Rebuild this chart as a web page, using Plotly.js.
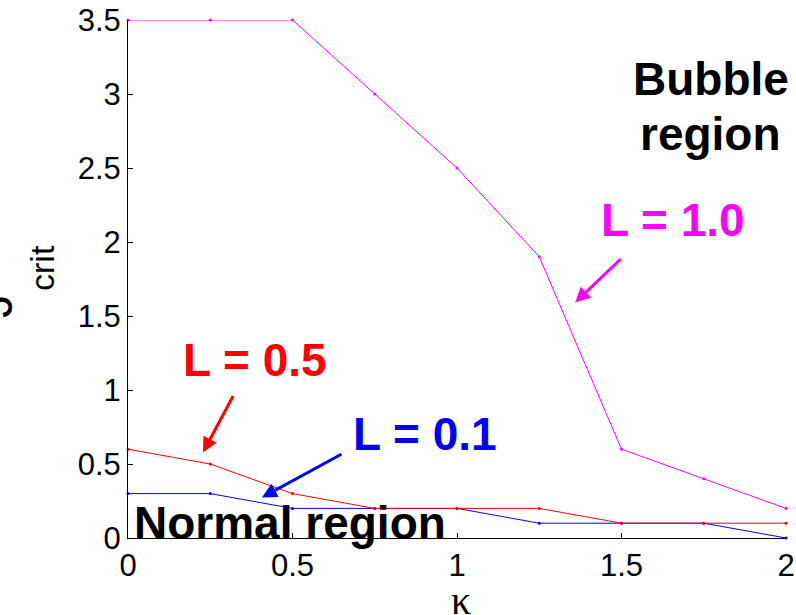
<!DOCTYPE html>
<html>
<head>
<meta charset="utf-8">
<script src="https://cdn.plot.ly/plotly-3.0.1.min.js"></script>
<style>html,body{margin:0;padding:0;background:#fff;}#chart{width:796px;height:615px;}</style>
</head>
<body>
<div id="chart"></div>
<script>
// Data
const kappa = [0, 0.25, 0.5, 0.75, 1, 1.25, 1.5, 1.75, 2];
const J_L10 = [3.5, 3.5, 3.5, 3.0, 2.5, 1.9, 0.6, 0.4, 0.2];
const J_L05 = [0.6, 0.5, 0.3, 0.2, 0.2, 0.2, 0.1, 0.1, 0.1];
const J_L01 = [0.3, 0.3, 0.2, 0.2, 0.2, 0.1, 0.1, 0.1, 0.0];
const xTicks = [0, 0.5, 1, 1.5, 2];
const yTicks = [0, 0.5, 1, 1.5, 2, 2.5, 3, 3.5];

const SANS = 'Liberation Sans, Arial, sans-serif';

function trace(y, color, name) {
  return {
    x: kappa, y: y, name: name, type: 'scatter', mode: 'lines+markers',
    line: {color: color, width: 1},
    marker: {color: color, size: 3},
    cliponaxis: false
  };
}

const data = [
  trace(J_L10, '#ff00ff', 'L = 1.0'),
  trace(J_L01, '#0000ff', 'L = 0.1'),
  trace(J_L05, '#ff0000', 'L = 0.5')
];

function label(text, color, x, y, size) {
  return {
    text: text, x: x, y: y, xref: 'x', yref: 'y', showarrow: false,
    xanchor: 'center', yanchor: 'middle',
    font: {family: SANS, size: size || 46, color: color, weight: 'bold'}
  };
}
function arrow(color, hx, hy, tx, ty) {
  return {
    text: '', x: hx, y: hy, ax: tx, ay: ty, xref: 'x', yref: 'y', axref: 'x', ayref: 'y',
    showarrow: true, arrowhead: 2, arrowsize: 1, arrowwidth: 3, arrowcolor: color, standoff: 0
  };
}

const annotations = [
  label('Bubble', '#000', 1.772, 3.10),
  label('region', '#000', 1.772, 2.73),
  label('L = 1.0', '#ff00ff', 1.655, 2.15),
  label('L = 0.5', '#ff0000', 0.386, 1.20),
  label('L = 0.1', '#0000ff', 0.903, 0.70),
  label('Normal region', '#000', 0.493, 0.10),
  arrow('#ff00ff', 1.359, 1.591, 1.502, 1.895),
  arrow('#ff0000', 0.228, 0.578, 0.322, 0.970),
  arrow('#0000ff', 0.407, 0.274, 0.653, 0.571),
  // y-axis title (J with subscript crit), rotated
  {text: 'J', xref: 'paper', yref: 'paper', x: 0, y: 0, xanchor: 'center', yanchor: 'middle',
   xshift: -133, yshift: 232, textangle: -90, showarrow: false,
   font: {family: SANS, size: 48, color: '#000'}},
  {text: 'crit', xref: 'paper', yref: 'paper', x: 0, y: 0, xanchor: 'center', yanchor: 'middle',
   xshift: -86, yshift: 270, textangle: -90, showarrow: false,
   font: {family: SANS, size: 34, color: '#000'}},
  // x-axis title
  {text: 'κ', xref: 'paper', yref: 'paper', x: 0, y: 0, xanchor: 'center', yanchor: 'top',
   xshift: 333, yshift: -38, showarrow: false,
   font: {family: 'Liberation Serif, Times New Roman, serif', size: 40, color: '#000'}}
];

const axisCommon = {
  showline: true, linecolor: '#000', linewidth: 1, mirror: false,
  ticks: 'inside', ticklen: 5, tickwidth: 1, tickcolor: '#000',
  showgrid: false, zeroline: false,
  tickfont: {family: SANS, size: 31, color: '#000'}
};

const layout = {
  width: 796, height: 615,
  margin: {l: 128, r: 10, t: 20, b: 77},
  paper_bgcolor: '#fff', plot_bgcolor: '#fff',
  showlegend: false,
  xaxis: Object.assign({}, axisCommon, {range: [0, 2], tickvals: xTicks, ticktext: xTicks.map(String)}),
  yaxis: Object.assign({}, axisCommon, {range: [0, 3.5], tickvals: yTicks, ticktext: yTicks.map(String)}),
  annotations: annotations
};

Plotly.newPlot('chart', data, layout, {staticPlot: true, displayModeBar: false});
</script>
</body>
</html>
